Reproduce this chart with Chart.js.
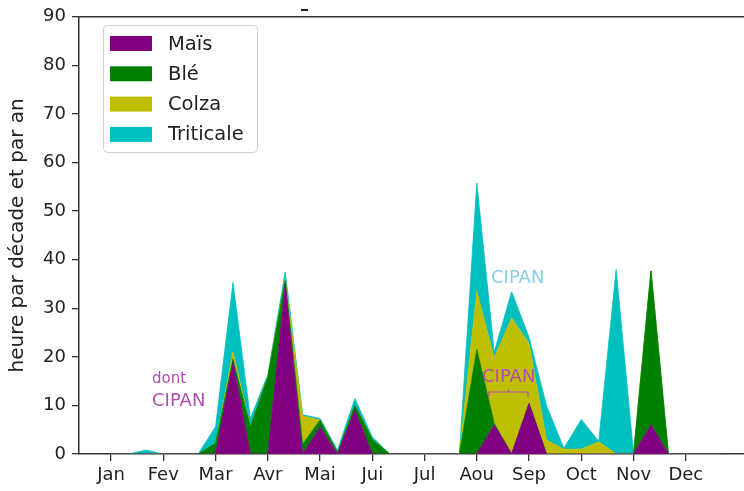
<!DOCTYPE html>
<html><head><meta charset="utf-8">
<script src="https://cdn.jsdelivr.net/npm/chart.js@4/dist/chart.umd.min.js"></script>
<style>html,body{margin:0;padding:0;background:#fff}#wrap{width:744px;height:491px;position:relative}</style>
</head><body><div id="wrap"><canvas id="c" width="744" height="491"></canvas></div>
<script>
// ---- data (hours per decade, 36 decades) ----
const monthLabels = ['Jan','Fev','Mar','Avr','Mai','Jui','Jul','Aou','Sep','Oct','Nov','Dec'];
const monthTickPositions = [0,3,6,9,12,15,18,21,24,27,30,33];
const decades = [0,1,2,3,4,5,6,7,8,9,10,11,12,13,14,15,16,17,18,19,20,21,22,23,24,25,26,27,28,29,30,31,32,33,34,35];
const mais      = [0,0,0,0,0,0,0,19,0,0,35,0,5.5,0,9,0,0,0,0,0,0,0,6,0,10.4,0,0,0,0,0,0,6,0,0,0,0];
const ble       = [0,0,0,0,0,0,2.2,0.5,5.6,15.8,0.7,2,1.5,0.3,1,3,0,0,0,0,0,21.5,0.3,0,0,0,0,0,0,0,0,31.7,0,0,0,0];
const colza     = [0,0,0,0,0,0,0,1.5,0,0,0.3,5.8,0,0,0,0,0,0,0,0,0,12,13.5,28,12.3,2.9,1,1,2.5,0,0,0,0,0,0,0];
const triticale = [0,0,0.8,0,0,0,3.4,14.3,1.7,0.5,1.5,0.3,0.3,0.5,1.4,0.5,0,0,0,0,0,22.3,1.2,5.4,1.3,7.1,0.2,6.1,0.1,38,0,0,0,0,0,0];
const seriesNames = ['Maïs','Blé','Colza','Triticale'];
const seriesColors = ['#800080','#008000','#bfbf00','#00bfbf'];
const seriesValues = [mais, ble, colza, triticale];
const yTitle = 'heure par décade et par an';

Chart.defaults.font.family = 'DejaVu Sans';
Chart.defaults.color = '#222';

const datasets = seriesValues.map((arr, k) => ({
  label: seriesNames[k],
  data: decades.map((x, i) => ({x: x, y: arr[i]})),
  backgroundColor: seriesColors[k],
  borderColor: seriesColors[k],
  borderWidth: 0.8,
  pointRadius: 0,
  tension: 0,
  fill: k === 0 ? 'origin' : '-1'
}));

const decorPlugin = {
  id: 'decor',
  afterDatasetsDraw(chart) {
    const ctx = chart.ctx;
    ctx.save();
    ctx.textBaseline = 'middle';
    ctx.textAlign = 'left';
    ctx.fillStyle = '#b04db0';
    ctx.font = '15px "DejaVu Sans"';
    ctx.fillText('dont', 152, 379);
    ctx.font = '18px "DejaVu Sans"';
    ctx.fillText('CIPAN', 152, 401);
    ctx.fillText('CIPAN', 482, 377);
    ctx.strokeStyle = '#b04db0';
    ctx.lineWidth = 1.2;
    ctx.beginPath();
    ctx.moveTo(489, 397); ctx.lineTo(489, 392); ctx.lineTo(528, 392); ctx.lineTo(528, 397);
    ctx.moveTo(508.5, 392); ctx.lineTo(508.5, 389);
    ctx.stroke();
    ctx.fillStyle = '#86cfe6';
    ctx.fillText('CIPAN', 491, 278);
    ctx.restore();
  },
  afterDraw(chart) {
    const ctx = chart.ctx;
    const a = chart.chartArea;
    ctx.save();
    // top spine
    ctx.strokeStyle = '#333';
    ctx.lineWidth = 1.5;
    ctx.beginPath();
    ctx.moveTo(a.left, a.top); ctx.lineTo(a.right, a.top);
    ctx.stroke();
    // small title dash
    ctx.lineWidth = 2;
    ctx.strokeStyle = '#222';
    ctx.beginPath(); ctx.moveTo(301, 10); ctx.lineTo(308, 10); ctx.stroke();
    // legend
    const lx = 103, ly = 25, lw = 154, lh = 127, r = 4;
    ctx.fillStyle = 'rgba(255,255,255,0.85)';
    ctx.strokeStyle = '#d0d0d0';
    ctx.lineWidth = 1;
    ctx.beginPath();
    ctx.roundRect(lx + 0.5, ly + 0.5, lw, lh, r);
    ctx.fill(); ctx.stroke();
    ctx.font = '19.5px "DejaVu Sans"';
    ctx.textBaseline = 'middle';
    ctx.textAlign = 'left';
    seriesNames.forEach((n, k) => {
      const cy = 43.5 + 30.3 * k;
      ctx.fillStyle = seriesColors[k];
      ctx.fillRect(110, cy - 7.5, 42, 15);
      ctx.fillStyle = '#222';
      ctx.fillText(n, 168, cy + 1);
    });
    ctx.restore();
  }
};

new Chart(document.getElementById('c'), {
  type: 'line',
  data: { datasets },
  options: {
    responsive: false,
    animation: false,
    devicePixelRatio: 1,
    layout: { padding: { left: 0, right: 0, top: 15, bottom: 0 } },
    plugins: { legend: { display: false }, tooltip: { enabled: false } },
    scales: {
      x: {
        type: 'linear',
        min: -1.84,
        max: 36.34,
        afterFit(scale) { scale.height = 37; },
        afterBuildTicks(scale) { scale.ticks = monthTickPositions.map(v => ({ value: v })); },
        ticks: {
          autoSkip: false, maxRotation: 0, padding: 4,
          font: { size: 18 }, color: '#222',
          callback: (v) => monthLabels[monthTickPositions.indexOf(v)]
        },
        grid: { drawOnChartArea: false, drawTicks: true, tickLength: 7, color: '#333', lineWidth: 1.3 },
        border: { display: true, color: '#333', width: 1.5 }
      },
      y: {
        min: 0, max: 90, stacked: true,
        afterFit(scale) { scale.width = 79; },
        ticks: { stepSize: 10, padding: 6, font: { size: 18 }, color: '#222' },
        grid: { drawOnChartArea: false, drawTicks: true, tickLength: 7, color: '#333', lineWidth: 1.3 },
        border: { display: true, color: '#333', width: 1.5 },
        title: { display: true, text: yTitle, font: { size: 20 }, color: '#222', padding: { top: 6, bottom: 0 } }
      }
    }
  },
  plugins: [decorPlugin]
});
</script>
</body></html>
